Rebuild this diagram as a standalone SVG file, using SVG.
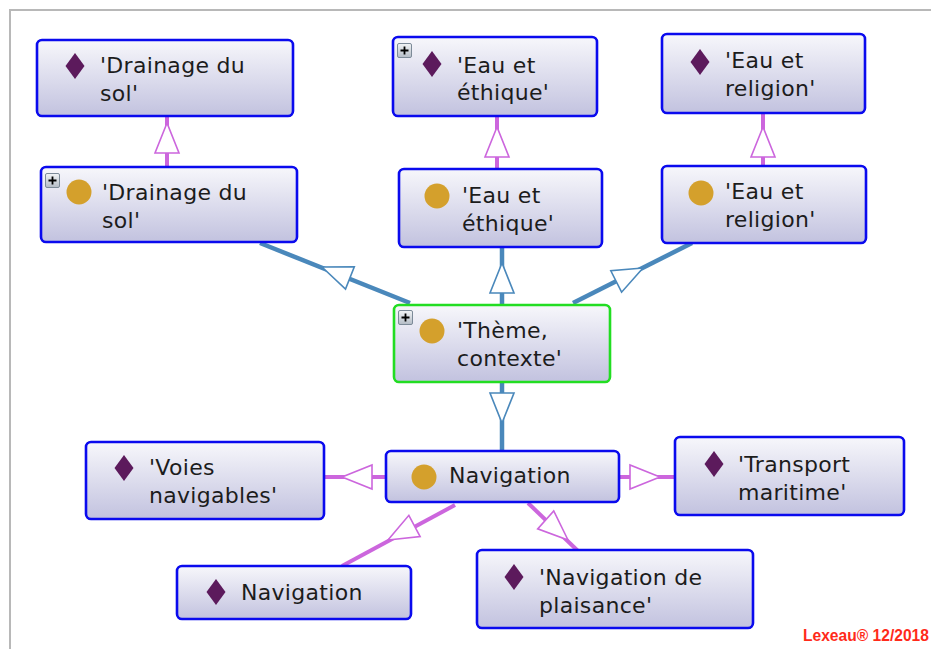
<svg xmlns="http://www.w3.org/2000/svg" xmlns:xlink="http://www.w3.org/1999/xlink" width="931" height="649" viewBox="0 0 931 649">
<style>
.box{fill:url(#ng);stroke:#0a0aee;stroke-width:2.6}
.sel{stroke:#22dd22}
.t{font-family:"DejaVu Sans",Verdana,sans-serif;font-size:22px;letter-spacing:0.3px;fill:#1c1c1c}
.pk{stroke:#cc66dd;stroke-width:4;fill:none}
.bl{stroke:#4a88bb;stroke-width:4.5;fill:none}
.hp{fill:#fff;stroke:#cc66dd;stroke-width:1.6}
.hb{fill:#fff;stroke:#4a88bb;stroke-width:1.6}
.frame{stroke:#b8b8b8;stroke-width:2;fill:none}
.sig{font-family:"Liberation Sans",Arial,sans-serif;font-weight:bold;font-size:15.6px;fill:#ff2a1a}
</style>
<defs>
<linearGradient id="ng" x1="0" y1="0" x2="0" y2="1">
<stop offset="0" stop-color="#f7f7fb"/>
<stop offset="1" stop-color="#c2c2df"/>
</linearGradient>
<linearGradient id="pg" x1="0" y1="0" x2="0" y2="1">
<stop offset="0" stop-color="#f2f4f6"/>
<stop offset="1" stop-color="#b4bcc6"/>
</linearGradient>
<path id="tri" d="M0,0 L-30,-12 L-30,12 Z"/>
<path id="dia" d="M0,-13 L9.5,0 L0,13 L-9.5,0 Z" fill="#5c1a5c"/>
<circle id="cls" r="12.5" fill="#d4a02c"/>
<g id="plus">
<rect x="0.5" y="0.5" width="14" height="14" rx="1.5" fill="url(#pg)" stroke="#7c8a98"/>
<path d="M3.5,7.5 H11.5 M7.5,3.5 V11.5" stroke="#000" stroke-width="1.8"/>
</g>
</defs>
<rect width="931" height="649" fill="#fff"/>
<path class="frame" d="M10,649 V10 H931"/>

<g id="connectors">
<line class="pk" x1="167" y1="116" x2="167" y2="167"/>
<use xlink:href="#tri" class="hp" transform="translate(167,123) rotate(-90)"/>
<line class="pk" x1="497" y1="116" x2="497" y2="169"/>
<use xlink:href="#tri" class="hp" transform="translate(497,127) rotate(-90)"/>
<line class="pk" x1="763" y1="113" x2="763" y2="166"/>
<use xlink:href="#tri" class="hp" transform="translate(763,127) rotate(-90)"/>

<line class="bl" x1="410" y1="303" x2="260" y2="243"/>
<use xlink:href="#tri" class="hb" transform="translate(322,267) rotate(201.5)"/>
<line class="bl" x1="502" y1="247" x2="502" y2="305"/>
<use xlink:href="#tri" class="hb" transform="translate(502,263) rotate(-90)"/>
<line class="bl" x1="573" y1="303" x2="692" y2="243"/>
<use xlink:href="#tri" class="hb" transform="translate(643,268) rotate(-26.7)"/>
<line class="bl" x1="502" y1="382" x2="502" y2="451"/>
<use xlink:href="#tri" class="hb" transform="translate(502,423) rotate(90)"/>

<line class="pk" x1="324" y1="477" x2="386" y2="477"/>
<use xlink:href="#tri" class="hp" transform="translate(342,477) rotate(180)"/>
<line class="pk" x1="619" y1="477" x2="675" y2="477"/>
<use xlink:href="#tri" class="hp" transform="translate(660,477) rotate(0)"/>
<line class="pk" x1="455" y1="505" x2="342" y2="566"/>
<use xlink:href="#tri" class="hp" transform="translate(388,540) rotate(152)"/>
<line class="pk" x1="528" y1="503" x2="578" y2="551"/>
<use xlink:href="#tri" class="hp" transform="translate(568,540) rotate(42)"/>
</g>

<g id="n-drainage-ind">
<rect class="box" x="37" y="40" width="256" height="76" rx="5"/>
<use xlink:href="#dia" x="75" y="66"/>
<text class="t" x="100" y="73">'Drainage du</text>
<text class="t" x="100" y="101">sol'</text>
</g>
<g id="n-drainage-cls">
<rect class="box" x="41" y="167" width="256" height="75" rx="5"/>
<use xlink:href="#plus" x="45" y="173"/>
<use xlink:href="#cls" x="79" y="192"/>
<text class="t" x="102" y="200">'Drainage du</text>
<text class="t" x="102" y="228">sol'</text>
</g>
<g id="n-ethique-ind">
<rect class="box" x="393" y="37" width="204" height="79" rx="5"/>
<use xlink:href="#plus" x="397" y="43"/>
<use xlink:href="#dia" x="432" y="64"/>
<text class="t" x="457" y="73">'Eau et</text>
<text class="t" x="457" y="100">éthique'</text>
</g>
<g id="n-ethique-cls">
<rect class="box" x="399" y="169" width="203" height="78" rx="5"/>
<use xlink:href="#cls" x="437" y="196"/>
<text class="t" x="462" y="203">'Eau et</text>
<text class="t" x="462" y="231">éthique'</text>
</g>
<g id="n-theme">
<rect class="box sel" x="394" y="305" width="216" height="77" rx="5"/>
<use xlink:href="#plus" x="398" y="310"/>
<use xlink:href="#cls" x="432" y="331"/>
<text class="t" x="457" y="338">'Thème,</text>
<text class="t" x="457" y="366">contexte'</text>
</g>
<g id="n-religion-ind">
<rect class="box" x="662" y="34" width="203" height="79" rx="5"/>
<use xlink:href="#dia" x="700" y="62"/>
<text class="t" x="725" y="68">'Eau et</text>
<text class="t" x="725" y="96">religion'</text>
</g>
<g id="n-religion-cls">
<rect class="box" x="662" y="166" width="204" height="77" rx="5"/>
<use xlink:href="#cls" x="701" y="193"/>
<text class="t" x="725" y="199">'Eau et</text>
<text class="t" x="725" y="227">religion'</text>
</g>
<g id="n-navigation-cls">
<rect class="box" x="386" y="451" width="233" height="51" rx="5"/>
<use xlink:href="#cls" x="424" y="477"/>
<text class="t" x="449" y="483">Navigation</text>
</g>
<g id="n-voies">
<rect class="box" x="86" y="442" width="238" height="77" rx="5"/>
<use xlink:href="#dia" x="124" y="468"/>
<text class="t" x="149" y="475">'Voies</text>
<text class="t" x="149" y="503">navigables'</text>
</g>
<g id="n-navigation-ind">
<rect class="box" x="177" y="566" width="234" height="53" rx="5"/>
<use xlink:href="#dia" x="216" y="592"/>
<text class="t" x="241" y="600">Navigation</text>
</g>
<g id="n-transport">
<rect class="box" x="675" y="437" width="229" height="78" rx="5"/>
<use xlink:href="#dia" x="714" y="464"/>
<text class="t" x="738" y="472">'Transport</text>
<text class="t" x="738" y="500">maritime'</text>
</g>
<g id="n-plaisance">
<rect class="box" x="477" y="550" width="276" height="78" rx="5"/>
<use xlink:href="#dia" x="514" y="577"/>
<text class="t" x="539" y="585">'Navigation de</text>
<text class="t" x="539" y="613">plaisance'</text>
</g>

<text class="sig" x="803" y="641">Lexeau® 12/2018</text>
</svg>
